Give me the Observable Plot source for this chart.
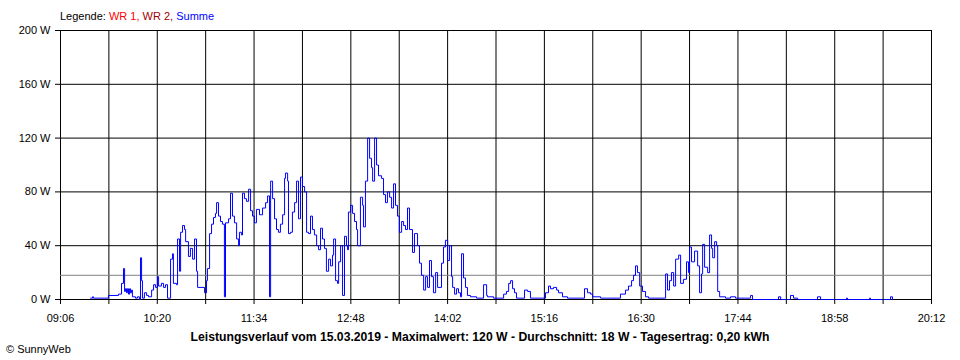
<!DOCTYPE html>
<html>
<head>
<meta charset="utf-8">
<script src="https://cdn.jsdelivr.net/npm/d3@7"></script>
<script src="https://cdn.jsdelivr.net/npm/@observablehq/plot@0.6"></script>
<style>
  html, body { margin: 0; padding: 0; background: #fff; }
  body { width: 960px; height: 360px; position: relative; overflow: hidden; font-family: "Liberation Sans", Arial, sans-serif; }
  #legend { position: absolute; left: 60px; top: 10px; font-size: 11px; line-height: 12px; white-space: nowrap; }
  #chart { position: absolute; left: 0; top: 22px; }
  #caption { position: absolute; left: 0; width: 960px; top: 329px; text-align: center; font-size: 12.2px; font-weight: bold; line-height: 16px; white-space: nowrap; }
  #copy { position: absolute; left: 6px; top: 343px; font-size: 11px; line-height: 12px; white-space: nowrap; }
</style>
</head>
<body>
<div id="legend"><span style="color:#000">Legende: </span><span style="color:#ff0000">WR 1, </span><span style="color:#a00000">WR 2, </span><span style="color:#0000ff">Summe</span></div>
<div id="chart"></div>
<div id="caption">Leistungsverlauf vom 15.03.2019 - Maximalwert: 120 W - Durchschnitt: 18 W - Tagesertrag: 0,20 kWh</div>
<div id="copy">© SunnyWeb</div>
<script>
// ---- data ----
const times = [
"09:29:00","09:30:30","09:31:10","09:42:40","09:50:20","09:52:40","09:54:10","09:55:00","09:55:40","09:56:30",
"09:57:10","09:58:00","09:58:50","09:59:30","10:00:20","10:01:00","10:03:20","10:04:50","10:06:20","10:07:10",
"10:08:00","10:08:40","10:10:10","10:11:50","10:13:20","10:15:40","10:17:10","10:18:40","10:20:10","10:21:00",
"10:23:10","10:24:50","10:26:20","10:27:50","10:30:10","10:31:40","10:32:20","10:34:40","10:35:30","10:37:00",
"10:37:50","10:39:20","10:40:50","10:41:40","10:43:50","10:45:20","10:47:00","10:48:30","10:50:00","10:50:50",
"10:56:10","10:57:40","10:58:20","11:00:00","11:01:30","11:03:00","11:04:30","11:05:20","11:06:50","11:08:20",
"11:09:50","11:11:20","11:12:10","11:14:30","11:16:00","11:17:30","11:19:00","11:20:40","11:22:10","11:22:50",
"11:24:20","11:25:10","11:26:40","11:28:10","11:29:50","11:31:20","11:32:50","11:34:20","11:35:50","11:38:10",
"11:40:30","11:42:50","11:44:20","11:45:50","11:46:40","11:48:10","11:49:40","11:51:10","11:52:40","11:54:10",
"11:55:50","11:57:20","11:58:00","11:59:40","12:00:20","12:01:50","12:03:20","12:05:00","12:06:30","12:08:00",
"12:09:30","12:11:00","12:12:40","12:14:10","12:15:40","12:17:10","12:18:40","12:20:10","12:21:50","12:23:20",
"12:24:50","12:26:20","12:27:50","12:29:20","12:31:00","12:32:30","12:34:00","12:34:50","12:36:20","12:37:50",
"12:38:40","12:40:10","12:41:40","12:43:10","12:44:40","12:45:30","12:46:10","12:47:50","12:49:20","12:50:50",
"12:52:20","12:53:10","12:55:20","12:57:00","12:57:40","12:59:10","13:00:50","13:02:20","13:03:50","13:04:40",
"13:06:10","13:07:40","13:09:10","13:11:30","13:13:00","13:14:30","13:16:00","13:17:40","13:19:10","13:20:40",
"13:22:10","13:23:40","13:25:10","13:26:50","13:28:20","13:29:50","13:31:20","13:32:50","13:35:10","13:36:40",
"13:39:00","13:40:30","13:42:00","13:43:40","13:45:10","13:46:40","13:48:10","13:49:40","13:51:10","13:52:50",
"13:54:20","13:57:20","13:58:50","14:00:20","14:02:00","14:03:30","14:05:00","14:05:50","14:07:20","14:08:50",
"14:10:20","14:11:50","14:12:40","14:14:10","14:15:40","14:17:10","14:19:30","14:24:10","14:29:30","14:31:50",
"14:32:30","14:37:10","14:44:50","14:47:00","14:48:40","14:50:10","14:51:40","14:53:10","14:54:40","15:00:50",
"15:03:10","15:05:20","15:16:50","15:19:10","15:20:40","15:23:00","15:25:20","15:26:50","15:29:50","15:33:40",
"15:46:40","15:49:00","15:51:20","15:52:50","15:59:00","16:14:10","16:18:00","16:20:20","16:22:40","16:24:10",
"16:25:40","16:27:10","16:28:50","16:31:00","16:33:20","16:35:40","16:48:40","16:50:10","16:51:40","16:53:10",
"16:54:50","16:56:20","16:58:40","17:00:10","17:02:20","17:04:40","17:06:10","17:07:00","17:08:30","17:10:50",
"17:13:10","17:14:40","17:16:10","17:17:00","17:18:30","17:20:50","17:22:20","17:23:50","17:24:40","17:26:10",
"17:27:40","17:28:30","17:30:00","17:34:30","17:38:20","17:42:10","17:49:50","17:53:40","17:55:10","18:15:00",
"18:16:40","18:24:10","18:26:30","18:29:40","18:44:50","18:47:10","19:07:00","19:07:50","19:24:40","19:25:20",
"19:40:40","19:42:10"
];
const watts = [
1,2,1,3,4,12,23,6,8,5,
8,4,8,5,7,2,1,2,0,31,
14,1,5,3,2,7,11,9,17,10,
12,9,11,1,30,34,12,11,45,21,
50,55,52,43,32,38,30,45,21,9,
5,14,23,49,56,61,64,72,62,58,
56,2,57,60,79,62,57,45,40,50,
48,79,75,73,82,66,62,57,67,63,
68,72,77,2,88,75,60,52,50,56,
63,90,94,88,49,50,65,72,88,60,
91,84,80,50,49,62,52,48,40,37,
53,45,38,21,30,25,33,45,14,12,
28,40,3,47,40,37,65,70,64,58,
52,40,76,70,54,88,120,105,98,88,
120,100,92,90,78,72,80,76,68,86,
70,62,50,58,55,52,68,52,35,49,
40,27,18,7,17,9,29,17,5,20,
9,27,39,44,29,40,17,9,4,8,
5,2,34,16,9,3,2,1,11,3,
2,1,4,6,12,14,8,5,1,7,
6,1,5,10,8,9,7,5,2,1,
8,5,4,2,1,4,7,10,14,18,
25,20,10,6,2,1,19,7,14,20,
10,30,33,12,15,28,20,39,28,36,
25,5,19,41,24,20,48,38,31,43,
40,6,2,1,2,1,1,3,0,2,
0,3,1,0,2,0,1,0,1,0,
2,0
];
const gridTimes = ["09:06","09:43","10:20","10:57","11:34","12:11","12:48","13:25","14:02","14:39","15:16","15:53","16:30","17:07","17:44","18:21","18:58","19:35","20:12"];
const labelTimes = ["09:06","10:20","11:34","12:48","14:02","15:16","16:30","17:44","18:58","20:12"];
const yTicks = [0, 40, 80, 120, 160, 200];
const average = 18;

// ---- helpers ----
const toMin = s => { const p = s.split(":").map(Number); return p[0] * 60 + p[1] + (p[2] || 0) / 60; };
const fmt = m => String(Math.floor(m / 60)).padStart(2, "0") + ":" + String(Math.round(m % 60)).padStart(2, "0");
const data = times.map((t, i) => ({ t: toMin(t), w: watts[i] }));
const gridMins = gridTimes.map(toMin);
const labelMins = new Set(labelTimes.map(toMin));

const chart = Plot.plot({
  width: 960,
  height: 306,
  marginLeft: 60,
  marginRight: 29,
  marginTop: 8,
  marginBottom: 29,
  style: { fontFamily: "Liberation Sans, Arial, sans-serif", fontSize: "11px", color: "#000", background: "#fff", overflow: "visible" },
  x: { type: "linear", domain: [toMin(gridTimes[0]), toMin(gridTimes[gridTimes.length - 1])] },
  y: { domain: [0, 200] },
  marks: [
    Plot.ruleX(gridMins, { stroke: "#000", strokeWidth: 1 }),
    Plot.ruleY(yTicks, { stroke: "#000", strokeWidth: 1 }),
    Plot.ruleY([average], { stroke: "#808080", strokeWidth: 1 }),
    Plot.line(data, { x: "t", y: "w", stroke: "#0000ff", strokeWidth: 1, curve: "step-after" }),
    Plot.axisY(yTicks, { tickSize: 5, tickPadding: 5, tickFormat: d => d + " W", stroke: "#000", label: null }),
    Plot.axisX(gridMins, { tickSize: 5, tickPadding: 10, tickFormat: m => labelMins.has(m) ? fmt(m) : "", stroke: "#000", label: null })
  ]
});
document.getElementById("chart").appendChild(chart);
</script>
</body>
</html>
